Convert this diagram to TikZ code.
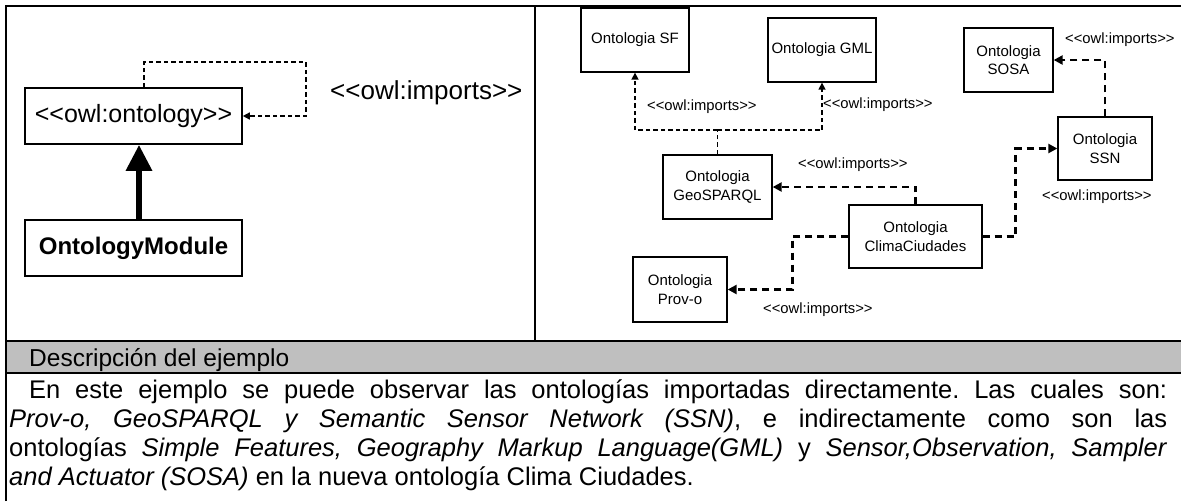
\documentclass[tikz,border=0pt]{standalone}
\usepackage{fontspec}
\setmainfont{Liberation Sans}
\usetikzlibrary{arrows.meta}

% guillemet-safe stereotype brackets (avoid the << >> text ligatures)
\newcommand\sterL{<\kern0pt<}
\newcommand\sterR{>\kern0pt>}
\newcommand\owlimports{\sterL owl:imports\sterR}

\begin{document}
\frenchspacing
\begin{tikzpicture}[x=1pt,y=-1pt,
  frame/.style={line width=2.4pt},
  ont/.style={draw,line width=1.3pt,align=center,inner sep=0pt,
    font=\fontsize{15}{18.5}\selectfont},
  bigbox/.style={draw,line width=1.6pt,inner sep=0pt,
    minimum width=217pt,minimum height=56pt},
  implabel/.style={inner sep=0pt,anchor=west,font=\fontsize{14.8}{17}\selectfont},
  thinlink/.style={line width=1.5pt,dash pattern=on 4.5pt off 3pt},
  thinarrow/.style={thinlink,-{Triangle[length=7pt,width=7pt]}},
  heavylink/.style={line width=2.6pt,dash pattern=on 7pt off 5pt,
    -{Triangle[length=9pt,width=9pt]}},
  inherit/.style={line width=6pt,-{Triangle[length=26pt,width=25pt]}},
  bodyline/.style={inner sep=0pt,anchor=base west,
    font=\fontsize{25.5}{29}\selectfont}]

\useasboundingbox (0,0) rectangle (1181,501);

% table frame
\fill[fill={rgb,255:red,191;green,191;blue,191}] (6,341) rectangle (1181,373);
\draw[frame] (6,501) -- (6,6) -- (1181,6);
\draw[frame] (535,6) -- (535,341);
\draw[frame] (6,341) -- (1181,341);
\draw[frame] (6,373) -- (1181,373);

% left panel: OWL ontology module pattern
\node[bigbox,font=\fontsize{25}{30}\selectfont] (ontology) at (133.5,116) {\sterL owl:ontology\sterR};
\node[bigbox,font=\fontsize{24}{30}\selectfont\bfseries] (module) at (133.5,248) {OntologyModule};
\draw[inherit] ([xshift=5.5pt]module.north) -- ([xshift=5.5pt]ontology.south);
\coordinate (loop) at (306,62);
\draw[thinarrow] ([xshift=10.5pt]ontology.north) |- (loop) |- (ontology.east);
\node[anchor=west,inner sep=0pt,font=\fontsize{26}{30}\selectfont] (bigimp) at (330,93) {\owlimports};

% right panel: ontologies imported by ClimaCiudades
\node[ont,minimum width=108pt,minimum height=64pt] (sf) at (635,40) {Ontologia SF};
\node[ont,minimum width=108pt,minimum height=64pt] (gml) at (822,50) {Ontologia GML};
\node[ont,minimum width=89pt,minimum height=64pt] (sosa) at (1008.5,60) {Ontologia\\SOSA};
\node[ont,minimum width=94pt,minimum height=63pt] (ssn) at (1105,148.5) {Ontologia\\SSN};
\node[ont,minimum width=109pt,minimum height=64pt] (geo) at (717.5,187) {Ontologia\\GeoSPARQL};
\node[ont,minimum width=133pt,minimum height=63pt] (clima) at (915.5,236.5) {Ontologia\\ClimaCiudades};
\node[ont,minimum width=94pt,minimum height=65pt] (prov) at (680,289.5) {Ontologia\\Prov-o};

% GeoSPARQL imports SF and GML
\coordinate (geoj) at (geo.north |- 0,130);
\draw[thinlink] (geo.north) -- (geoj);
\draw[thinarrow] (geoj) -| (sf.south);
\draw[thinarrow] (geoj) -| (gml.south);
\node[implabel] (lsf) at (647,107) {\owlimports};
\node[implabel] (lgml) at (823,105) {\owlimports};

% ClimaCiudades imports
\draw[heavylink] (clima.north) |- (geo.east);
\node[implabel] (lgeo) at (798,165) {\owlimports};
\draw[heavylink] (clima.west) -- ++(-56,0) |- (prov.east);
\node[implabel] (lprov) at (763,310) {\owlimports};
\draw[heavylink] (clima.east) -- ++(33,0) |- (ssn.west);
\node[implabel] (lssn) at (1042,197) {\owlimports};

% SSN imports SOSA
\draw[heavylink] (ssn.north) |- (sosa.east);
\node[implabel] (lsosa) at (1065,40) {\owlimports};

% description row
\node[inner sep=0pt,anchor=base west,font=\fontsize{24.5}{29}\selectfont] (hdr) at (29,366) {Descripción del ejemplo};
\node[bodyline] (t1) at (29,398) {\hbox to 1138pt{En este ejemplo se puede observar las ontologías importadas directamente. Las cuales son:}};
\node[bodyline] (t2) at (9,427) {\hbox to 1158pt{\textit{Prov-o, GeoSPARQL y Semantic Sensor Network (SSN)}, e indirectamente como son las}};
\node[bodyline] (t3) at (9,456) {\hbox to 1158pt{ontologías \textit{Simple Features, Geography Markup Language(GML)} y \textit{Sensor,Observation, Sampler}}};
\node[bodyline] (t4) at (9,485) {\textit{and Actuator (SOSA)} en la nueva ontología Clima Ciudades.};
\end{tikzpicture}
\end{document}
